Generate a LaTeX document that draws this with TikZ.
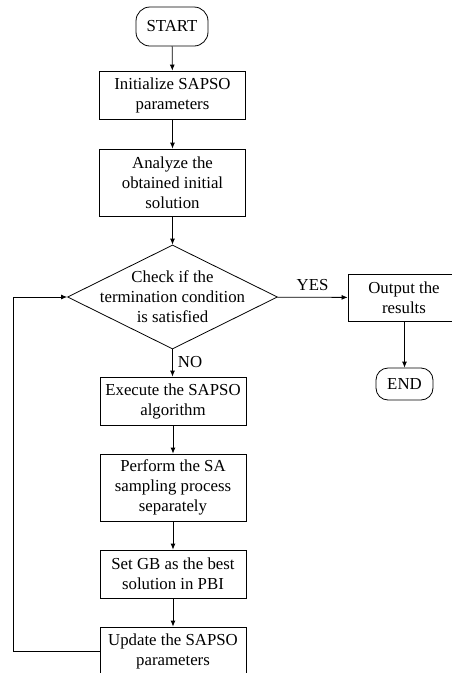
\documentclass[tikz,border=0pt]{standalone}
\usepackage{fontspec}
\setmainfont{Liberation Serif}
\usetikzlibrary{shapes.geometric,arrows.meta}
\begin{document}
\begin{tikzpicture}[x=1pt,y=-1pt,
  every node/.style={font=\fontsize{16.8}{20}\selectfont, align=center, inner sep=0pt},
  box/.style={draw, line width=0.8pt, minimum width=146pt},
  term/.style={draw, line width=0.8pt, rounded corners=14pt},
  dec/.style={draw, line width=0.8pt, diamond, aspect=2, minimum width=210pt, minimum height=104pt},
  arr/.style={line width=0.8pt, -{Latex[length=6pt,width=5pt]}},
  lbl/.style={font=\fontsize{16.8}{20}\selectfont}]
\useasboundingbox (0,0) rectangle (451,673);
\node[term, minimum width=72pt, minimum height=39pt] (start) at (172,26.5) {START};
\node[box, minimum height=48pt] (init) at (172.5,95) {Initialize SAPSO\\parameters};
\node[box, minimum height=67pt] (anal) at (172.5,182.5) {Analyze the\\obtained initial\\solution};
\node[dec] (chk) at (172.5,297) {};
\node (chktext) at (chk.center) {Check if the\\termination condition\\is satisfied};
\node[box, minimum width=112pt, minimum height=47pt] (out) at (404,297.5) {Output the\\results};
\node[term, minimum width=57pt, minimum height=32pt, rounded corners=12pt] (end) at (404.5,384) {END};
\node[box, minimum height=48pt] (exec) at (173,401) {Execute the SAPSO\\algorithm};
\node[box, minimum height=67pt] (perf) at (173,487.5) {Perform the SA\\sampling process\\separately};
\node[box, minimum height=48pt] (setgb) at (173,574) {Set GB as the best\\solution in PBI};
\node[box, minimum height=48pt] (upd) at (173,651) {Update the SAPSO\\parameters};
\coordinate (lb) at (13,651);
\coordinate (lt) at (13,297);
\draw[arr] (start) -- (init);
\draw[arr] (init) -- (anal);
\draw[arr] (anal) -- (chk);
\draw[arr] (chk) -- node[lbl, above=6pt] {YES} (out);
\draw[arr] (out.south -| end) -- (end);
\draw[arr] (chk.south) -- node[lbl, right=5pt, pos=0.45] {NO} (exec.north -| chk.south);
\draw[arr] (exec) -- (perf);
\draw[arr] (perf) -- (setgb);
\draw[arr] (setgb) -- (upd);
\draw[arr] (upd.west) -- (lb) -- (lt) -- (chk.west);
\end{tikzpicture}
\end{document}
